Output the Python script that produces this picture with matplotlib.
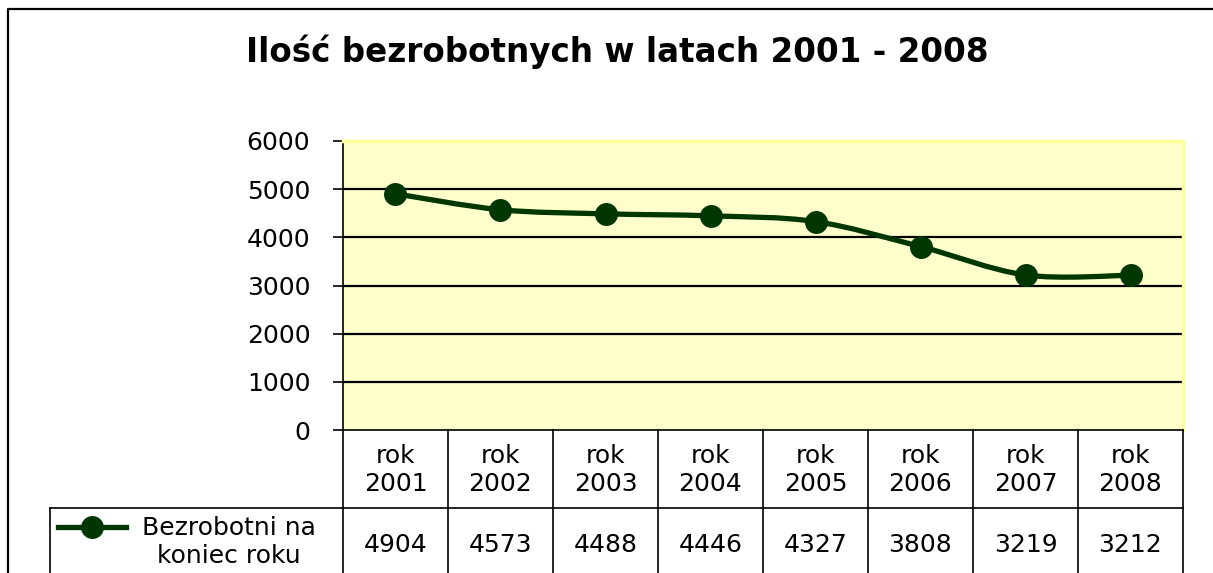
import matplotlib
matplotlib.use("Agg")
import matplotlib.pyplot as plt
from matplotlib.lines import Line2D
from matplotlib.path import Path
from matplotlib.patches import PathPatch

# dane
lata = ["rok\n2001", "rok\n2002", "rok\n2003", "rok\n2004",
        "rok\n2005", "rok\n2006", "rok\n2007", "rok\n2008"]
bezrobotni = [4904, 4573, 4488, 4446, 4327, 3808, 3219, 3212]
seria = "Bezrobotni na\nkoniec roku"
tytul = "Ilość bezrobotnych w latach 2001 - 2008"
y_ticks = [0, 1000, 2000, 3000, 4000, 5000, 6000]

ZIELONY = "#003600"
W, H = 1213, 573
FS = 18  # rozmiar tekstu w tabeli i na osi

plt.rcParams["font.family"] = ["DejaVu Sans"]

fig = plt.figure(figsize=(W / 100, H / 100), dpi=100)
fig.patch.set_facecolor("white")

# ramka wykresu (ucięta z prawej i od dołu)
fig.add_artist(Line2D([8 / W, 8 / W, 1.0], [0.0, 1 - 9 / H, 1 - 9 / H],
                      transform=fig.transFigure, color="black", lw=1.6))

fig.text(617 / W, 1 - 52 / H, tytul, ha="center", va="center",
         fontsize=23.5, fontweight="bold")

# obszar wykresu
x0, x1, y_top, y_zero = 343, 1183, 141, 430
ax = fig.add_axes([x0 / W, 1 - y_zero / H, (x1 - x0) / W, (y_zero - y_top) / H])
ax.set_facecolor("#FFFFCC")
ax.set_xlim(-0.5, len(lata) - 0.5)
ax.set_ylim(0, 6000)
ax.set_yticks(y_ticks)
ax.set_xticks([])
ax.tick_params(axis="y", length=7.5, width=1.2, pad=16, labelsize=FS)
for s in ("top", "right"):
    ax.spines[s].set_color("#FFFF99")
    ax.spines[s].set_linewidth(2.5)
ax.spines["left"].set_color("black")
ax.spines["left"].set_linewidth(1.2)
ax.spines["bottom"].set_color("black")
ax.spines["bottom"].set_linewidth(1.2)
for v in y_ticks[1:-1]:
    ax.axhline(v, color="black", lw=1.6, zorder=1)

# wygładzona linia (Catmull-Rom -> Bezier)
xs = list(range(len(bezrobotni)))
pts = list(zip(xs, bezrobotni))
verts = [pts[0]]
codes = [Path.MOVETO]
for i in range(len(pts) - 1):
    p0 = pts[max(i - 1, 0)]
    p1 = pts[i]
    p2 = pts[i + 1]
    p3 = pts[min(i + 2, len(pts) - 1)]
    c1 = (p1[0] + (p2[0] - p0[0]) / 6, p1[1] + (p2[1] - p0[1]) / 6)
    c2 = (p2[0] - (p3[0] - p1[0]) / 6, p2[1] - (p3[1] - p1[1]) / 6)
    verts += [c1, c2, p2]
    codes += [Path.CURVE4] * 3
ax.add_patch(PathPatch(Path(verts, codes), facecolor="none",
                       edgecolor=ZIELONY, lw=3.8, zorder=3))
ax.plot(xs, bezrobotni, linestyle="none", marker="o", markersize=15.5,
        color=ZIELONY, zorder=4)

# tabela danych pod osią (jednostki y = piksele od dołu)
tab = fig.add_axes([x0 / W, 0, (x1 - x0) / W, (H - y_zero) / H], sharex=ax)
tab.set_ylim(0, H - y_zero)
tab.axis("off")
wiersz = H - 508
for i in range(len(lata) + 1):
    tab.plot([i - 0.5, i - 0.5], [0, H - y_zero], color="black", lw=1.2,
             clip_on=False)
tab.plot([-0.5, len(lata) - 0.5], [wiersz, wiersz], color="black", lw=1.2,
         clip_on=False)
for i, (lab, val) in enumerate(zip(lata, bezrobotni)):
    tab.text(i, H - 470, lab, ha="center", va="center", fontsize=FS,
             linespacing=1.2)
    tab.text(i, H - 545, str(val), ha="center", va="center", fontsize=FS)

# komórka legendy
leg = fig.add_axes([50 / W, 0, (x0 - 50) / W, wiersz / H])
leg.set_xlim(0, x0 - 50)
leg.set_ylim(0, wiersz)
leg.axis("off")
leg.plot([0, 0], [0, wiersz], color="black", lw=1.2, clip_on=False)
leg.plot([0, x0 - 50], [wiersz, wiersz], color="black", lw=1.2, clip_on=False)
leg.plot([8, 76], [H - 527, H - 527], color=ZIELONY, lw=3.8)
leg.plot([42], [H - 527], marker="o", markersize=15.5, color=ZIELONY)
leg.text(179, H - 542, seria, ha="center", va="center", fontsize=FS,
         linespacing=1.2)

fig.savefig("out.png", dpi=100)
